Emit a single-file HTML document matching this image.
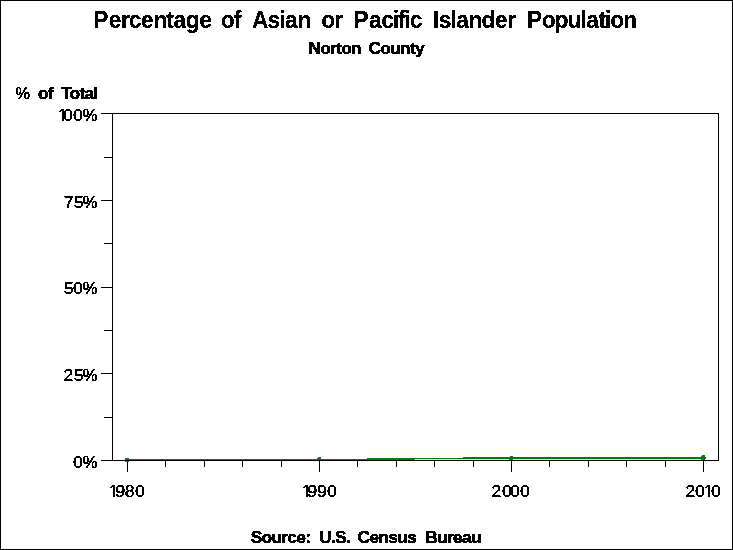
<!DOCTYPE html>
<html lang="en">
<head>
<meta charset="utf-8">
<title>Percentage of Asian or Pacific Islander Population - Norton County</title>
<style>
html,body{margin:0;padding:0;background:#fff;}
body{width:733px;height:550px;overflow:hidden;}
svg{display:block;}
text{font-family:"Liberation Sans",sans-serif;fill:#000;stroke:#000;stroke-linejoin:round;}
.title{font-size:24px;font-weight:bold;stroke-width:0.25px;}
.sub{font-size:17px;font-weight:bold;stroke-width:0.55px;letter-spacing:-0.7px;}
.tick{font-size:17px;font-weight:normal;stroke-width:0.4px;}
.pct{font-size:16px;font-weight:normal;stroke-width:0.5px;letter-spacing:0;}
.ax{fill:#000;shape-rendering:crispEdges;}
.g{fill:#008000;shape-rendering:crispEdges;}
</style>
</head>
<body>
<svg width="733" height="550" viewBox="0 0 733 550">
<defs><filter id="crisp" filterUnits="userSpaceOnUse" x="0" y="0" width="733" height="550" color-interpolation-filters="sRGB"><feComponentTransfer><feFuncA type="discrete" tableValues="0 1"/></feComponentTransfer></filter></defs>
<rect x="0" y="0" width="733" height="550" fill="#fff"/>
<g class="ax">
<rect x="0" y="0" width="733" height="1"/><rect x="0" y="549" width="733" height="1"/><rect x="0" y="0" width="1" height="550"/><rect x="732" y="0" width="1" height="550"/>
</g>
<g class="g">
<rect x="127" y="459" width="240" height="2"/><rect x="367" y="458" width="48" height="2"/><rect x="415" y="458" width="48" height="1"/><rect x="463" y="457" width="241" height="2"/>
</g>
<g class="ax">
<rect x="112" y="113" width="607" height="1"/><rect x="112" y="460" width="607" height="1"/><rect x="112" y="113" width="1" height="348"/><rect x="718" y="113" width="1" height="348"/>
<rect x="101" y="113" width="11" height="1"/><rect x="101" y="200" width="11" height="1"/><rect x="101" y="287" width="11" height="1"/><rect x="101" y="373" width="11" height="1"/><rect x="101" y="460" width="11" height="1"/><rect x="104" y="157" width="8" height="1"/><rect x="104" y="243" width="8" height="1"/><rect x="104" y="330" width="8" height="1"/><rect x="104" y="417" width="8" height="1"/>
<rect x="127" y="461" width="1" height="11"/><rect x="165" y="461" width="1" height="6"/><rect x="204" y="461" width="1" height="6"/><rect x="242" y="461" width="1" height="6"/><rect x="281" y="461" width="1" height="6"/><rect x="319" y="461" width="1" height="11"/><rect x="357" y="461" width="1" height="6"/><rect x="396" y="461" width="1" height="6"/><rect x="434" y="461" width="1" height="6"/><rect x="473" y="461" width="1" height="6"/><rect x="511" y="461" width="1" height="11"/><rect x="549" y="461" width="1" height="6"/><rect x="588" y="461" width="1" height="6"/><rect x="626" y="461" width="1" height="6"/><rect x="665" y="461" width="1" height="6"/><rect x="703" y="461" width="1" height="11"/>
</g>
<g class="g">
<rect x="125" y="458" width="4" height="2"/><rect x="125" y="461" width="4" height="1"/><rect x="318" y="457" width="3" height="1"/><rect x="317" y="458" width="4" height="2"/><rect x="510" y="456" width="3" height="1"/><rect x="509" y="457" width="4" height="3"/><rect x="702" y="455" width="3" height="1"/><rect x="701" y="456" width="4" height="4"/><rect x="705" y="457" width="1" height="2"/>
</g>
<g filter="url(#crisp)">
<text class="title" transform="translate(0,28) scale(0.95,1)"><tspan x="98.158 114.475 127.373 135.576 148.516 161.489 175.041 182.582 195.555 209.839">Percentage</tspan> <tspan x="232.5 246.052">of</tspan> <tspan x="265.395 281.686 293.874 300.071 313.043">Asian</tspan> <tspan x="338.158 351.713">or</tspan> <tspan x="372.105 388.422 401.363 413.551 419.015 425.804 431.312">Pacific</tspan> <tspan x="455.658 461.849 474.037 480.233 493.206 506.835 521.119 534.018">Islander</tspan> <tspan x="554.474 570.134 583.763 597.392 610.924 617.121 630.017 636.805 642.346 655.974">Population</tspan></text>
<text class="sub" transform="translate(0,54) scale(1.02,1)"><tspan x="302.451">Norton</tspan> <tspan x="361.275">County</tspan></text>
<text class="sub" transform="translate(0,99) scale(1.02,1)"><tspan class="pct" x="15.196">%</tspan> <tspan x="37.255">of</tspan> <tspan x="59.804">Total</tspan></text>
<text class="tick" transform="translate(0,121) scale(1.05,1)" x="55 60 69.524">100<tspan class="pct" x="78.81">%</tspan></text>
<text class="tick" transform="translate(0,208) scale(1.05,1)" x="60.714 70.238">75<tspan class="pct" x="78.81">%</tspan></text>
<text class="tick" transform="translate(0,294) scale(1.05,1)" x="60.714 69.524">50<tspan class="pct" x="78.81">%</tspan></text>
<text class="tick" transform="translate(0,381) scale(1.05,1)" x="60.238 70.238">25<tspan class="pct" x="78.81">%</tspan></text>
<text class="tick" transform="translate(0,468) scale(1.05,1)" x="69.524">0<tspan class="pct" x="78.81">%</tspan></text>
<text class="tick" transform="translate(0,497) scale(1.05,1)" x="103.571 109.762 118.81 128.571">1980</text>
<text class="tick" transform="translate(0,497) scale(1.05,1)" x="287.381 292.619 301.905 311.31">1990</text>
<text class="tick" transform="translate(0,497) scale(1.05,1)" x="467.857 478.095 485.714 495.238">2000</text>
<text class="tick" transform="translate(0,497) scale(1.05,1)" x="652.619 661.905 670.238 677.143">2010</text>
<text class="sub" transform="translate(0,543) scale(1.02,1)"><tspan x="245.833">Source:</tspan> <tspan x="312.99">U.S.</tspan> <tspan x="350.613">Census</tspan> <tspan x="417.034">Bureau</tspan></text>
</g>
<g fill="#fff" shape-rendering="crispEdges">
<rect x="59" y="119" width="3" height="1"/><rect x="64" y="119" width="1" height="1"/><rect x="59" y="120" width="3" height="1"/><rect x="64" y="120" width="2" height="1"/><rect x="110" y="495" width="3" height="1"/><rect x="115" y="495" width="1" height="1"/><rect x="110" y="496" width="3" height="1"/><rect x="115" y="496" width="2" height="1"/><rect x="303" y="495" width="3" height="1"/><rect x="303" y="496" width="3" height="1"/><rect x="308" y="496" width="1" height="1"/><rect x="705" y="495" width="3" height="1"/><rect x="710" y="495" width="3" height="1"/><rect x="705" y="496" width="3" height="1"/><rect x="710" y="496" width="3" height="1"/>
</g>
</svg>
</body>
</html>
